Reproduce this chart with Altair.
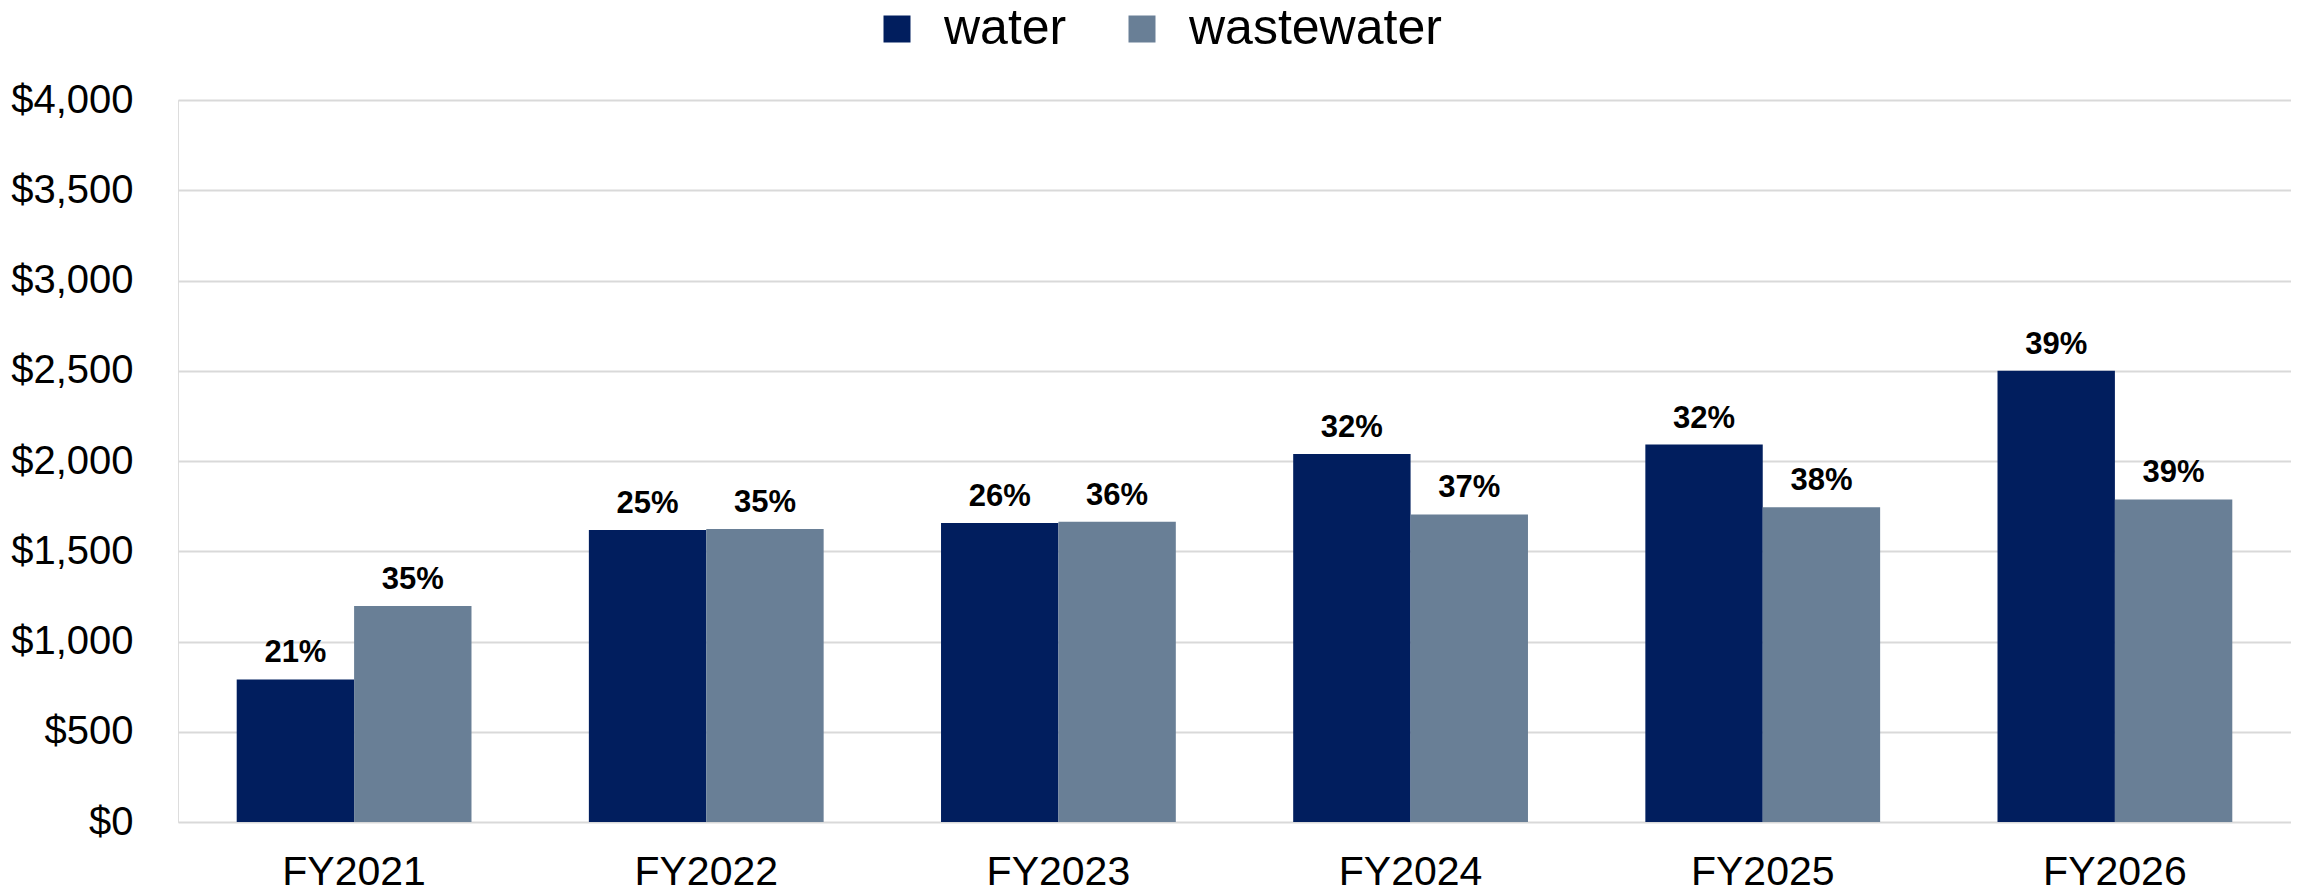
import altair as alt
import pandas as pd

years = ["FY2021", "FY2022", "FY2023", "FY2024", "FY2025", "FY2026"]
water = [790, 1618, 1656, 2039, 2091, 2500]
wastewater = [1197, 1623, 1664, 1704, 1744, 1787]
water_pct = ["21%", "25%", "26%", "32%", "32%", "39%"]
wastewater_pct = ["35%", "35%", "36%", "37%", "38%", "39%"]
series = ["water", "wastewater"]
colors = ["#011E5E", "#697F96"]

rows = []
for i, y in enumerate(years):
    rows.append({"year": y, "type": "water", "value": water[i], "label": water_pct[i]})
    rows.append({"year": y, "type": "wastewater", "value": wastewater[i], "label": wastewater_pct[i]})
df = pd.DataFrame(rows)

FONT = "Liberation Sans"

x = alt.X("year:N", sort=years, title=None,
          scale=alt.Scale(paddingInner=0.3333, paddingOuter=0.1667),
          axis=alt.Axis(labelAngle=0, labelFontSize=41, labelFont=FONT, labelColor="#000000",
                        domain=False, ticks=False, labelPadding=30))
xo = alt.XOffset("type:N", sort=series, scale=alt.Scale(paddingInner=0, paddingOuter=0))
y = alt.Y("value:Q", title=None,
          scale=alt.Scale(domain=[0, 4000], nice=False),
          axis=alt.Axis(values=list(range(0, 4001, 500)), format="$,.0f",
                        labelFontSize=40, labelFont=FONT, labelColor="#000000",
                        domain=False, ticks=False, labelPadding=45,
                        grid=True, gridColor="#D9D9D9", gridWidth=2))
color = alt.Color("type:N", sort=series,
                  scale=alt.Scale(domain=series, range=colors),
                  legend=alt.Legend(title=None, orient="none", direction="horizontal",
                                    legendX=694, legendY=-96, padding=0,
                                    symbolType="square", symbolSize=729, symbolStrokeWidth=0,
                                    labelFontSize=50, labelFont=FONT, labelColor="#000000",
                                    labelLimit=0, labelOffset=22, columnPadding=50))

bars = alt.Chart(df).mark_bar().encode(x=x, xOffset=xo, y=y, color=color)
labels = alt.Chart(df).mark_text(fontSize=31, font=FONT, fontWeight="bold", color="#000000",
                                 baseline="alphabetic", dy=-17).encode(
    x=x, xOffset=xo, y=y, text="label:N")

chart = alt.layer(bars, labels).properties(
    width=2113, height=722,
    autosize=alt.AutoSizeParams(type="none"),
    padding={"left": 170, "top": 92, "right": 0, "bottom": 70},
).configure_view(stroke=None).configure(font=FONT)

chart.save("out.html", embed_options={"renderer": "svg", "actions": False})
